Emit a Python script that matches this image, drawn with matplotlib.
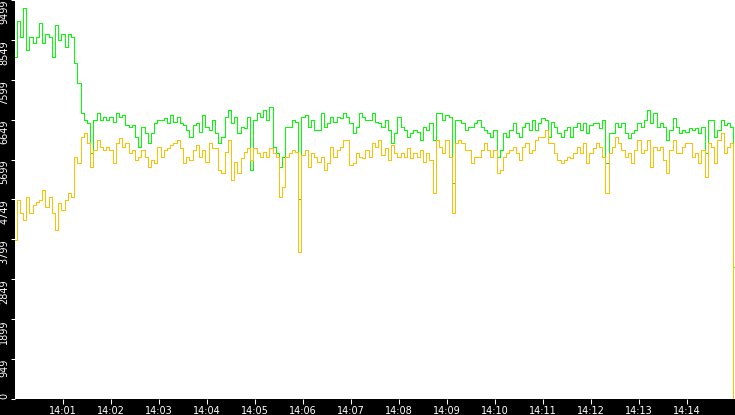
import numpy as np
import pandas as pd
import matplotlib
matplotlib.use("Agg")
import matplotlib.pyplot as plt
import matplotlib.dates as mdates

# sampled every 4 s from 14:00:00, last sample is the close at 14:14:59
start = pd.Timestamp("2024-01-01 14:00:00")
secs = list(range(0, 900, 4)) + [899]

upper = [
    8135, 9010, 8610, 9320, 8300, 8610, 8470, 8610, 8940, 8470,
    8700, 8610, 8135, 8900, 8540, 8700, 8370, 8700, 8610, 7990,
    7520, 6800, 6640, 6570, 5850, 6640, 6800, 6640, 6710, 6640,
    6710, 6590, 6800, 6710, 6760, 6520, 6470, 6520, 6230, 5990,
    6470, 6330, 6090, 6330, 6570, 6640, 6640, 6680, 6570, 6760,
    6590, 6710, 6570, 6520, 6400, 6230, 6520, 6570, 6350, 6760,
    6470, 6400, 6640, 6330, 6090, 6230, 6710, 6870, 6570, 6710,
    6330, 6470, 6450, 6710, 5450, 6640, 6800, 6710, 6870, 6640,
    6950, 5990, 5850, 5520, 5760, 6470, 6470, 6640, 6590, 4750,
    6710, 6760, 6470, 6640, 6400, 6400, 6800, 6470, 6570, 6710,
    6590, 6710, 6680, 6800, 6710, 6570, 6330, 6470, 6800, 6710,
    6640, 6640, 6800, 6590, 6570, 6470, 6640, 6400, 6090, 6330,
    6710, 6470, 6400, 6230, 6330, 6400, 6350, 6160, 6470, 6400,
    6570, 6160, 6800, 6800, 6640, 6760, 6710, 5140, 6640, 6640,
    6570, 6400, 6470, 6470, 6570, 6640, 6470, 6400, 6330, 6230,
    6400, 5760, 5920, 6330, 6230, 6400, 6570, 6330, 6230, 6470,
    6570, 6400, 6640, 6400, 6570, 6680, 6640, 6230, 6590, 6470,
    6330, 6230, 6400, 6470, 6230, 6470, 6570, 6400, 6570, 6330,
    6520, 6570, 6570, 6450, 6640, 5610, 6330, 6330, 6570, 6470,
    6570, 6330, 6210, 6330, 6400, 6570, 6470, 6640, 6870, 6570,
    6800, 6470, 6570, 6470, 6160, 6400, 6680, 6470, 6330, 6400,
    6350, 6450, 6400, 6450, 6330, 6470, 5850, 6640, 6640, 6230,
    6400, 6640, 6520, 6570, 6470,
    3150,
]

lower = [
    3780, 4730, 4420, 4260, 4810, 4420, 4620, 4690, 4730, 4970,
    4570, 4810, 4420, 4020, 4660, 4500, 4730, 4900, 4810, 5760,
    5610, 6230, 6330, 6090, 5520, 5920, 6160, 5990, 5920, 5990,
    5920, 5610, 6090, 6210, 5990, 6090, 5850, 5920, 5690, 5760,
    5920, 5760, 5520, 5690, 5610, 5990, 5760, 5920, 5970, 6040,
    6090, 6160, 5970, 5610, 5760, 5690, 5920, 6040, 5760, 5920,
    5640, 6090, 5970, 5970, 5450, 5380, 5880, 6160, 5210, 5640,
    5380, 5730, 5880, 5970, 5690, 5970, 5850, 5760, 5880, 5760,
    5970, 5850, 5760, 4810, 5040, 5760, 5850, 5920, 5880, 3500,
    5800, 5920, 5520, 5850, 5760, 5640, 5760, 5450, 5610, 5990,
    5760, 5920, 5990, 6160, 6160, 5570, 5610, 5850, 5760, 5730,
    5920, 5760, 6090, 5990, 6160, 5800, 5970, 5690, 6040, 5850,
    5760, 5850, 5760, 5970, 5730, 5850, 5760, 5920, 5640, 5850,
    5690, 4900, 6160, 5990, 5850, 6160, 5760, 4430, 6090, 6160,
    6090, 5920, 5920, 5610, 5760, 5760, 5920, 6090, 5920, 5760,
    5920, 5380, 5450, 5760, 5850, 5920, 5990, 5850, 5690, 5990,
    6090, 5850, 5920, 6160, 6230, 6230, 6400, 6090, 6090, 5850,
    5690, 5610, 5690, 5760, 5730, 5850, 5990, 5850, 6090, 5610,
    5850, 5970, 6090, 5990, 5760, 4900, 5850, 5990, 6230, 6090,
    5920, 5760, 5850, 5610, 5920, 6160, 5850, 5920, 6160, 5520,
    5990, 5920, 5990, 5690, 5380, 5920, 6160, 5850, 5850, 5990,
    6090, 6090, 5760, 5850, 5610, 5920, 5280, 6090, 5990, 5610,
    6160, 6330, 5850, 5990, 6090,
    0,
]

y_step = 949.9
y_ticks = [i * y_step for i in range(11)]
y_labels = [str(int(v)) for v in y_ticks]
x_minutes = list(range(1, 15))

times = start + pd.to_timedelta(secs, unit="s")

fig = plt.figure(figsize=(7.35, 4.15), dpi=100, facecolor="black")
ax = fig.add_axes([15 / 735, 16 / 415, 720 / 735, 399 / 415])
ax.set_facecolor("white")

# crisp 1px steps like the original tick chart
ax.plot(times, upper, color="#00ff00", lw=0.72, drawstyle="steps-mid",
        antialiased=False)
ax.plot(times, lower, color="#ffc000", lw=0.72, drawstyle="steps-mid",
        antialiased=False)

ax.set_xlim(start, start + pd.Timedelta(minutes=15))
ax.set_ylim(0, y_ticks[-1])

ax.set_xticks([start + pd.Timedelta(minutes=m) for m in x_minutes])
ax.xaxis.set_major_formatter(mdates.DateFormatter("%H:%M"))
ax.set_yticks(y_ticks)
ax.set_yticklabels(y_labels)

for s in ax.spines.values():
    s.set_visible(False)

ax.tick_params(axis="x", colors="white", length=3.6, width=0.75, pad=1.2,
               labelsize=7)
ax.tick_params(axis="y", colors="white", length=2.9, width=0.75, pad=1.2)
for i, lab in enumerate(ax.get_yticklabels()):
    lab.set_rotation(90)
    lab.set_family(["Liberation Sans Narrow", "DejaVu Sans"])
    lab.set_fontsize(7)
    lab.set_va("bottom" if i == 0 else "top")

fig.savefig("out.png", dpi=100, facecolor="black")
